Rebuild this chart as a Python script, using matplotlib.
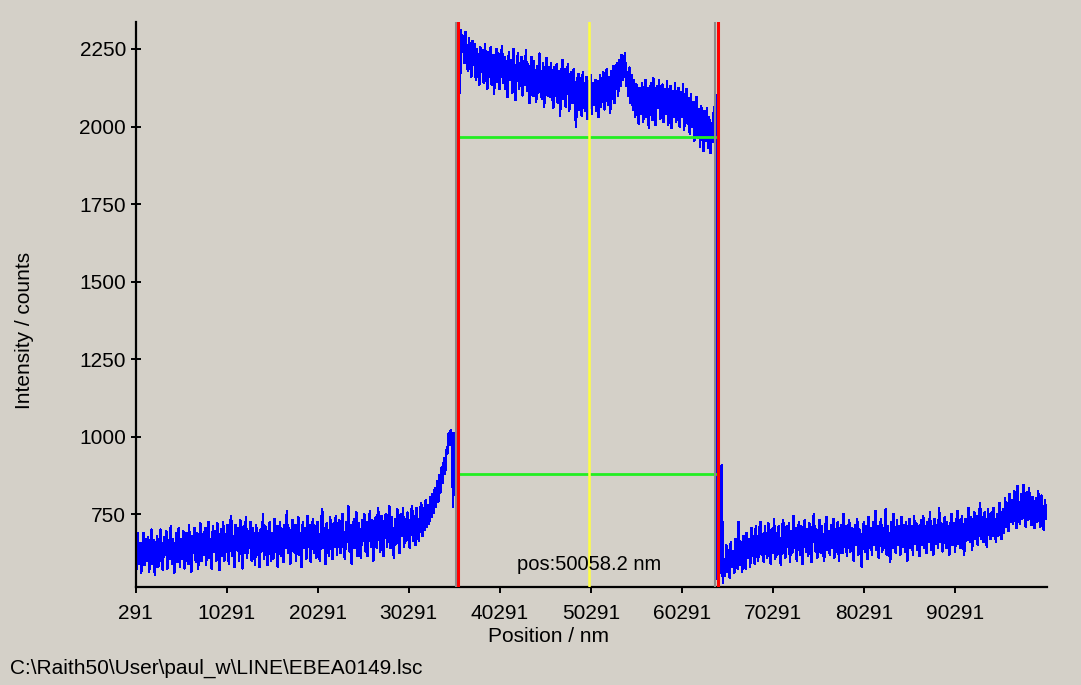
import numpy as np
import matplotlib
matplotlib.use("Agg")
import matplotlib.pyplot as plt

# ---- data ----
x_start = 291.0          # nm, first sample
x_step = 125.0           # nm, sample spacing

left_counts = [
    660, 575, 690, 590, 655, 560, 640, 690, 585, 670, 600, 675, 565, 645, 700, 590, 665, 555, 615, 680,
    580, 660, 700, 600, 570, 675, 620, 695, 575, 665, 605, 710, 590, 670, 560, 640, 690, 595, 705, 580,
    670, 605, 695, 575, 650, 690, 590, 715, 615, 565, 680, 625, 705, 595, 690, 575, 660, 720, 600, 685,
    620, 705, 585, 690, 725, 610, 670, 575, 710, 630, 695, 600, 720, 640, 570, 700, 615, 725, 600, 685,
    630, 715, 590, 700, 745, 615, 680, 580, 715, 635, 705, 600, 730, 645, 575, 710, 625, 740, 610, 695,
    640, 725, 600, 705, 675, 585, 715, 620, 690, 580, 700, 630, 750, 605, 710, 640, 585, 695, 725, 600,
    690, 605, 735, 630, 710, 580, 680, 725, 615, 700, 595, 715, 640, 760, 625, 705, 590, 690, 730, 630,
    715, 600, 690, 740, 620, 690, 580, 725, 640, 705, 605, 745, 645, 715, 595, 700, 735, 625, 710, 610,
    725, 630, 600, 715, 765, 640, 705, 590, 720, 650, 615, 740, 660, 605, 720, 645, 745, 620, 710, 730,
    625, 715, 750, 640, 605, 725, 660, 775, 630, 715, 590, 705, 735, 640, 755, 615, 720, 655, 610, 730,
    665, 750, 630, 725, 615, 715, 760, 645, 730, 600, 710, 740, 640, 770, 720, 630, 745, 660, 615, 730,
    750, 645, 720, 775, 640, 740, 670, 610, 735, 655, 765, 670, 625, 750, 680, 770, 645, 735, 665, 755,
    720, 640, 750, 775, 665, 745, 650, 770, 690, 665, 760, 785, 680, 770, 700, 795, 710, 780, 720, 805,
    740, 815, 755, 835, 775, 855, 790, 875, 820, 900, 850, 930, 880, 955, 945, 1010, 975, 1020, 1005, 775,
    1010, 980, 1005, 990,
]
mid_counts = [
    2325, 2110, 2310, 2240, 2290, 2205, 2305, 2230, 2180, 2285, 2215, 2160, 2275, 2200, 2265, 2150, 2250, 2190, 2135, 2255,
    2175, 2245, 2140, 2265, 2185, 2120, 2240, 2160, 2255, 2135, 2230, 2105, 2215, 2250, 2145, 2235, 2120, 2205, 2260, 2140,
    2225, 2120, 2210, 2095, 2240, 2150, 2215, 2110, 2250, 2140, 2085, 2205, 2235, 2120, 2190, 2225, 2100, 2210, 2135, 2245,
    2115, 2200, 2075, 2185, 2225, 2100, 2210, 2130, 2080, 2195, 2110, 2235, 2140, 2090, 2205, 2065, 2170, 2220, 2100, 2190,
    2095, 2205, 2120, 2060, 2190, 2100, 2200, 2075, 2180, 2035, 2160, 2215, 2090, 2185, 2065, 2170, 2200, 2050, 2150, 2175,
    2075, 2185, 2100, 2000, 2140, 2170, 2055, 2155, 2035, 2175, 2080, 2050, 2160, 2025, 2145, 2065, 2165, 2040, 2140, 2070,
    2150, 2050, 2145, 2030, 2165, 2065, 2140, 2175, 2055, 2150, 2185, 2070, 2160, 2045, 2180, 2090, 2195, 2075, 2170, 2205,
    2100, 2215, 2130, 2230, 2150, 2190, 2235, 2130, 2175, 2100, 2190, 2075, 2165, 2055, 2150, 2030, 2135, 2050, 2010, 2125,
    2040, 2140, 2015, 2115, 2150, 2030, 2125, 1995, 2110, 2140, 2020, 2155, 2050, 2005, 2130, 2060, 2150, 2025, 2110, 2135,
    2015, 2120, 2040, 2145, 2005, 2105, 2130, 1995, 2115, 2030, 2140, 2015, 2100, 2125, 2000, 2110, 2030, 2135, 1990, 2095,
    2120, 2010, 2090, 1975, 2105, 2000, 2080, 1955, 2070, 2095, 1965, 2055, 1935, 2065, 1980, 1920, 2050, 1955, 2060, 1930,
    2030, 1915, 2010, 1950, 2045, 2065, 2100,
]
right_counts = [
    540, 600, 570, 560, 908, 527, 600, 550, 650, 565, 635, 545, 660, 580, 630, 560, 670, 590, 575, 725,
    585, 660, 565, 680, 600, 575, 690, 610, 670, 580, 705, 615, 680, 590, 710, 630, 600, 695, 725, 620,
    685, 595, 710, 635, 610, 720, 645, 590, 700, 625, 735, 605, 690, 620, 710, 640, 585, 700, 730, 630,
    610, 710, 645, 720, 595, 695, 625, 745, 640, 705, 600, 690, 725, 620, 710, 590, 685, 730, 630, 700,
    615, 720, 645, 595, 710, 750, 630, 700, 610, 690, 730, 625, 710, 645, 600, 705, 740, 635, 695, 620,
    715, 640, 735, 610, 700, 630, 725, 600, 690, 715, 625, 750, 645, 710, 615, 695, 730, 630, 705, 640,
    600, 715, 650, 735, 620, 700, 635, 580, 695, 725, 630, 710, 605, 740, 640, 705, 620, 725, 650, 760,
    635, 710, 610, 695, 735, 630, 705, 640, 765, 620, 710, 650, 595, 725, 640, 750, 660, 625, 730, 650,
    710, 620, 740, 645, 715, 630, 725, 600, 700, 735, 640, 710, 620, 745, 655, 720, 635, 710, 615, 730,
    650, 745, 640, 710, 625, 725, 660, 755, 635, 710, 620, 735, 655, 715, 640, 770, 660, 720, 630, 710,
    740, 640, 725, 660, 620, 715, 750, 650, 720, 630, 710, 760, 655, 730, 640, 745, 670, 620, 735, 665,
    720, 770, 660, 740, 635, 720, 755, 670, 745, 650, 725, 785, 670, 740, 660, 755, 680, 645, 765, 690,
    670, 755, 680, 770, 695, 660, 750, 680, 785, 700, 670, 765, 690, 800, 710, 785, 695, 815, 725, 795,
    720, 825, 740, 705, 840, 750, 720, 815, 735, 845, 745, 710, 820, 730, 835, 750, 715, 805, 740, 705,
    800, 725, 825, 740, 710, 810, 730, 700, 795, 735,
]

marker_left = 35731.0     # nm, red marker
marker_right = 64247.0    # nm, red marker
shadow_left = 35456.0     # nm, grey shadow of marker
shadow_right = 63917.0
cursor_pos = 50058.2      # nm, yellow cursor
level_high = 1966.0       # green level lines
level_low = 879.0

x_ticks = [291, 10291, 20291, 30291, 40291, 50291, 60291, 70291, 80291, 90291]
y_ticks = [750, 1000, 1250, 1500, 1750, 2000, 2250]
x_lim = (291, 100391)
y_lim = (515, 2337)

file_label = r"C:\Raith50\User\paul_w\LINE\EBEA0149.lsc"

# ---- build ----
counts = np.array(left_counts + mid_counts + right_counts, dtype=float)
positions = x_start + x_step * np.arange(len(counts))

bg = "#D4D0C8"
plt.rcParams["font.family"] = ["Liberation Sans", "DejaVu Sans"]
fs = 15

W, H = 1081, 685
fig = plt.figure(figsize=(W / 100, H / 100), dpi=100, facecolor=bg)
ax = fig.add_axes([135.5 / W, 1 - 587 / H, (1047 - 135.5) / W, (587 - 22) / H])
ax.set_facecolor(bg)

ax.plot(positions, counts, color="#0000FF", lw=1.1, zorder=2, antialiased=False)

# green level lines between the markers
ax.plot([marker_left, marker_right], [level_high, level_high], color="#22EE22", lw=2.0, zorder=3)
ax.plot([marker_left, marker_right], [level_low, level_low], color="#22EE22", lw=2.0, zorder=3)

# yellow cursor
ax.axvline(cursor_pos, color="#FFFF40", lw=1.8, zorder=4)

# grey shadows + red markers
for s in (shadow_left, shadow_right):
    ax.axvline(s, color="#8C8C8C", lw=1.5, zorder=4)
for m in (marker_left, marker_right):
    ax.axvline(m, color="#FF0000", lw=2.2, zorder=5)

ax.set_xlim(*x_lim)
ax.set_ylim(*y_lim)
ax.set_xticks(x_ticks)
ax.set_xticklabels([str(v) for v in x_ticks])
ax.set_yticks(y_ticks)
ax.set_yticklabels([str(v) for v in y_ticks])

for side in ("top", "right"):
    ax.spines[side].set_visible(False)
for side in ("left", "bottom"):
    ax.spines[side].set_color("#000000")
    ax.spines[side].set_linewidth(1.6)

ax.tick_params(axis="y", direction="inout", length=7.5, width=1.4, pad=3, labelsize=fs, colors="#000000")
ax.tick_params(axis="x", direction="out", length=4, width=1.4, pad=8, labelsize=fs, colors="#000000")

fig.text(548 / W, 1 - 637 / H, "Position / nm", ha="center", va="center", fontsize=fs)
fig.text(25 / W, 1 - 330 / H, "Intensity / counts", ha="center", va="center", rotation=90, fontsize=fs)
ax.text(cursor_pos, 0.04, "pos:%.1f nm" % cursor_pos, transform=ax.get_xaxis_transform(),
        ha="center", va="center", fontsize=fs - 0.5, zorder=6)
fig.text(10 / W, 1 - 668 / H, file_label, ha="left", va="center", fontsize=fs)

fig.savefig("out.png", dpi=100, facecolor=bg)
